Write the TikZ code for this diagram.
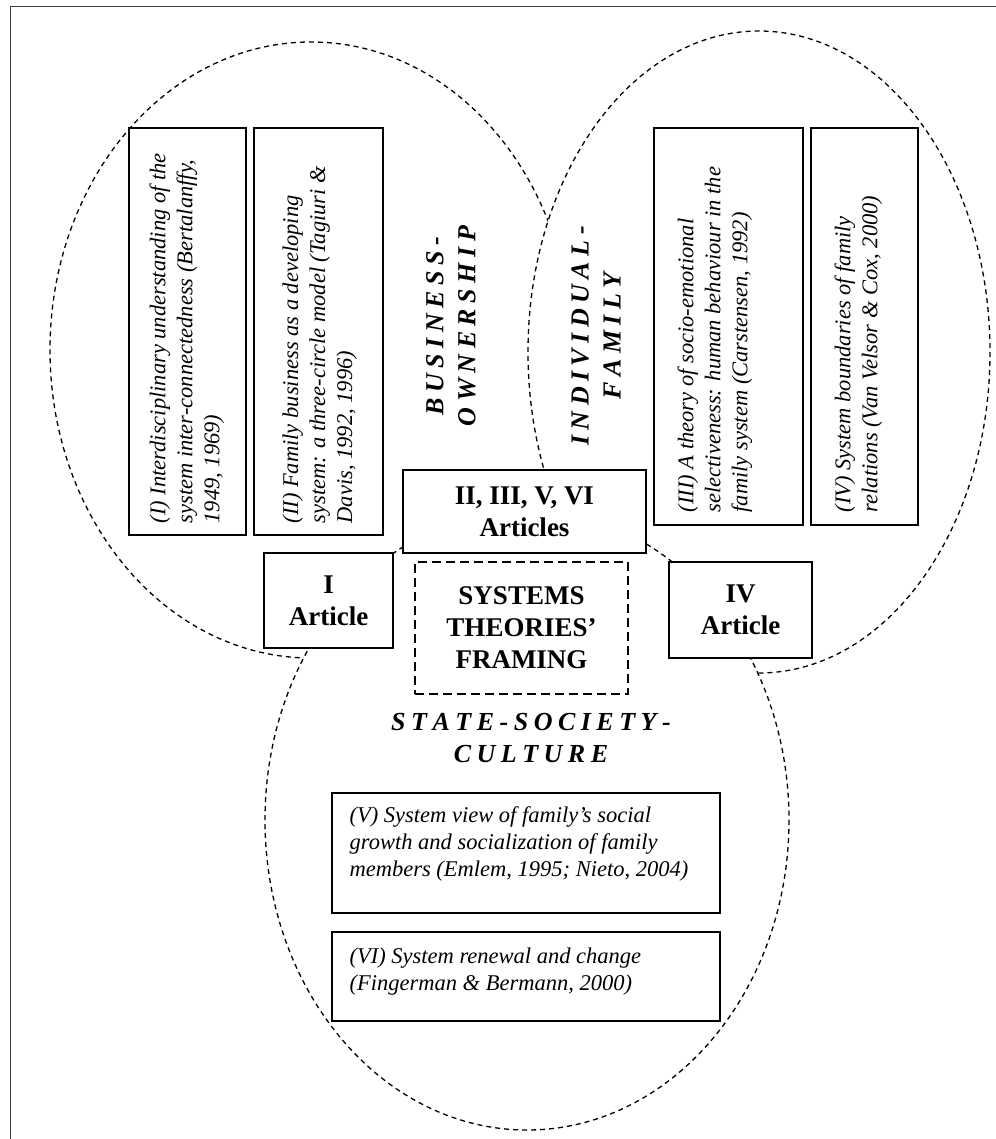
\documentclass[tikz,border=0pt]{standalone}
\usepackage{fontspec}
\setmainfont{Liberation Serif}

\makeatletter
\newcommand\spacedcaps[1]{\@tfor\sc@letter:=#1\do{\sc@letter\kern5.5pt}\unkern}
\makeatother

\begin{document}
\begin{tikzpicture}[x=1pt,y=-1pt]

\tikzset{
  circle area/.style={
    draw, fill=white,
    line width=1.3pt,
    dash pattern=on 5pt off 4pt,
  },
  theory box/.style={
    draw, fill=white,
    line width=1.2pt,
    inner sep=0pt,
  },
  theory text/.style={
    inner sep=0pt,
    align=left,
    font=\fontsize{22.5}{27}\selectfont\itshape,
  },
  article box/.style={
    draw, fill=white,
    line width=1.2pt,
    inner sep=0pt,
    align=center,
    font=\fontsize{27}{32}\selectfont\bfseries,
  },
  framing box/.style={
    article box,
    dash pattern=on 9pt off 5pt,
  },
  area label/.style={
    inner sep=0pt,
    align=center,
    font=\fontsize{26}{32}\selectfont\bfseries\itshape,
  }
}

\useasboundingbox (0,0) rectangle (995,1139);

% Outer frame
\draw[line width=1pt, black!75] (10,1160) -- (10,7) -- (1020,7);

% Circles (left, right, then bottom on top)
\path[circle area] (311,350) ellipse [x radius=261, y radius=308];
\path[circle area] (759,352) ellipse [x radius=231, y radius=321];
\path[circle area] (527,820) ellipse [x radius=262, y radius=310];

% Theory boxes, left circle
\node[theory box, minimum width=117pt, minimum height=407pt] (thI) at (187.5,331.5) {};
\node[theory box, minimum width=129pt, minimum height=407pt] (thII) at (318.5,331.5) {};

\node[theory text, rotate=90, anchor=north west] (txI) at ([xshift=21pt,yshift=12pt]thI.south west)
  {(I) Interdisciplinary understanding of the\\ system inter-connectedness (Bertalanffy,\\ 1949, 1969)};
\node[theory text, rotate=90, anchor=north west] (txII) at ([xshift=29pt,yshift=12pt]thII.south west)
  {(II) Family business as a developing\\ system: a three-circle model (Tagiuri \&\\ Davis, 1992, 1996)};

% Theory boxes, right circle
\node[theory box, minimum width=149pt, minimum height=397pt] (thIII) at (728.5,326.5) {};
\node[theory box, minimum width=107pt, minimum height=397pt] (thIV) at (864.5,326.5) {};

\node[theory text, rotate=90, anchor=north west] (txIII) at ([xshift=24pt,yshift=13pt]thIII.south west)
  {(III) A theory of socio-emotional\\ selectiveness: human behaviour in the\\ family system (Carstensen, 1992)};
\node[theory text, rotate=90, anchor=north west] (txIV) at ([xshift=24pt,yshift=13pt]thIV.south west)
  {(IV) System boundaries of family\\ relations (Van Velsor \& Cox, 2000)};

% Theory boxes, bottom circle
\node[theory box, minimum width=388pt, minimum height=120pt] (thV) at (526,853) {};
\node[theory box, minimum width=388pt, minimum height=89pt] (thVI) at (526,976.5) {};

\node[theory text, anchor=north west] (txV) at ([xshift=18pt,yshift=-14pt]thV.north west)
  {(V) System view of family’s social\\ growth and socialization of family\\ members (Emlem, 1995; Nieto, 2004)};
\node[theory text, anchor=north west] (txVI) at ([xshift=18pt,yshift=-16pt]thVI.north west)
  {(VI) System renewal and change\\ (Fingerman \& Bermann, 2000)};

% Circle labels
\node[area label, rotate=90] (business) at (451,326)
  {\spacedcaps{BUSINESS-}\\\spacedcaps{OWNERSHIP}};
\node[area label, rotate=90] (individual) at (596,336)
  {\spacedcaps{INDIVIDUAL-}\\\spacedcaps{FAMILY}};
\node[area label] (state) at (531,738)
  {\spacedcaps{STATE-SOCIETY-}\\\spacedcaps{CULTURE}};

% Article boxes
\node[article box, minimum width=243pt, minimum height=83pt] (artMid) at (524.5,511.5) {II, III, V, VI\\Articles};
\node[article box, minimum width=129pt, minimum height=95pt] (artI) at (328.5,600.5) {I\\Article};
\node[article box, minimum width=143pt, minimum height=96pt] (artIV) at (740.5,610) {IV\\Article};

% Centre
\node[framing box, minimum width=213pt, minimum height=132pt] (framing) at (521.5,628)
  {SYSTEMS\\THEORIES’\\FRAMING};

\end{tikzpicture}
\end{document}
